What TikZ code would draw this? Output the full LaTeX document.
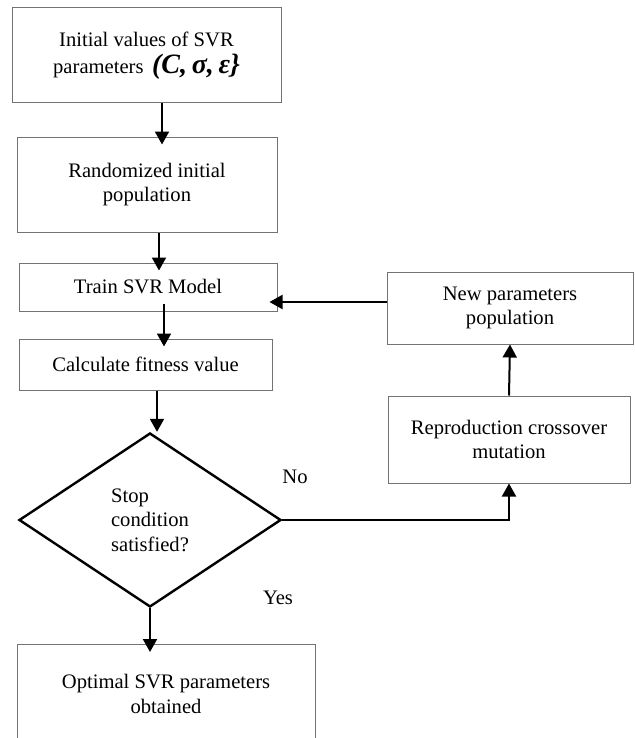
\documentclass[tikz,border=0pt]{standalone}
\usepackage{fontspec}
\setmainfont{Liberation Serif}
\usepackage{amsmath}
\usepackage{tikz}
\usetikzlibrary{calc}
\usetikzlibrary{arrows.meta}
\usetikzlibrary{shapes.geometric}
\tikzset{>=latex}
\tikzstyle{block} = [draw = black!55, line width = .5pt, inner sep = 0, align = center, font = \fontsize{10.3}{12.25}\selectfont]
\tikzstyle{tag} = [draw = none, inner sep = 0, font = \fontsize{10.3}{12.25}\selectfont]
\tikzstyle{flow} = [-{Triangle[length = 6.5pt, width = 7pt]}, line width = 1pt, draw = black]
\tikzstyle{into} = [shorten >= -4pt]

\begin{document}
\begin{tikzpicture}[x = .5pt, y = -.5pt]
\path [use as bounding box, clip] (0, 0) rectangle (634, 738);
\node [block, minimum width = 134.5pt, minimum height = 47.5pt] (init) at (146.5, 55.5) {Initial values of SVR\\[1.5pt]parameters\, {\fontsize{14}{14}\selectfont\bfseries\itshape (C,\,σ,\,ε\}}};
\node [block, minimum width = 130pt, minimum height = 47.5pt] (random) at (147, 184.5) {Randomized initial\\population};
\node [block, minimum width = 129pt, minimum height = 24pt] (train) at (148, 287) {Train SVR Model};
\node [block, minimum width = 126.5pt, minimum height = 25.5pt] (calc) at (145.5, 364.5) {Calculate fitness value};
\node [block, shape = diamond, draw = black, line width = 1.2pt, minimum width = 131pt, minimum height = 87pt, align = left] (stop) at (150, 520) {Stop\\condition\\satisfied?};
\node [block, minimum width = 149pt, minimum height = 49.5pt] (optimal) at (166, 694) {Optimal SVR parameters\\obtained};
\node [block, minimum width = 123pt, minimum height = 36pt] (newpop) at (510, 308) {New parameters\\population};
\node [block, minimum width = 121pt, minimum height = 43.5pt] (repro) at (509, 439.5) {Reproduction crossover\\mutation};
\node [tag] (no) at (295, 477) {No};
\node [tag] (yes) at (278, 598) {Yes};
\draw [flow, into] ($(init.south) + (15.5, 0)$) to ($(random.north) + (15, 0)$);
\draw [flow, into] ($(random.south) + (12, 0)$) to ($(train.north) + (11, 0)$);
\draw [flow, into, shorten <= -4pt] ($(train.south) + (16, 0)$) to ($(calc.north) + (18.5, 0)$);
\draw [flow] ($(calc.south) + (11.5, 0)$) to ($(stop.north) + (7, 0)$);
\draw [flow, into] (stop.south) to (stop.south |- optimal.north);
\draw [flow] (stop.east) -| (repro.south);
\draw [flow] (repro.north) to (newpop.south);
\draw [flow, into] ($(newpop.west) + (0, -6)$) to ($(train.east) + (0, 15)$);
\end{tikzpicture}
\end{document}
